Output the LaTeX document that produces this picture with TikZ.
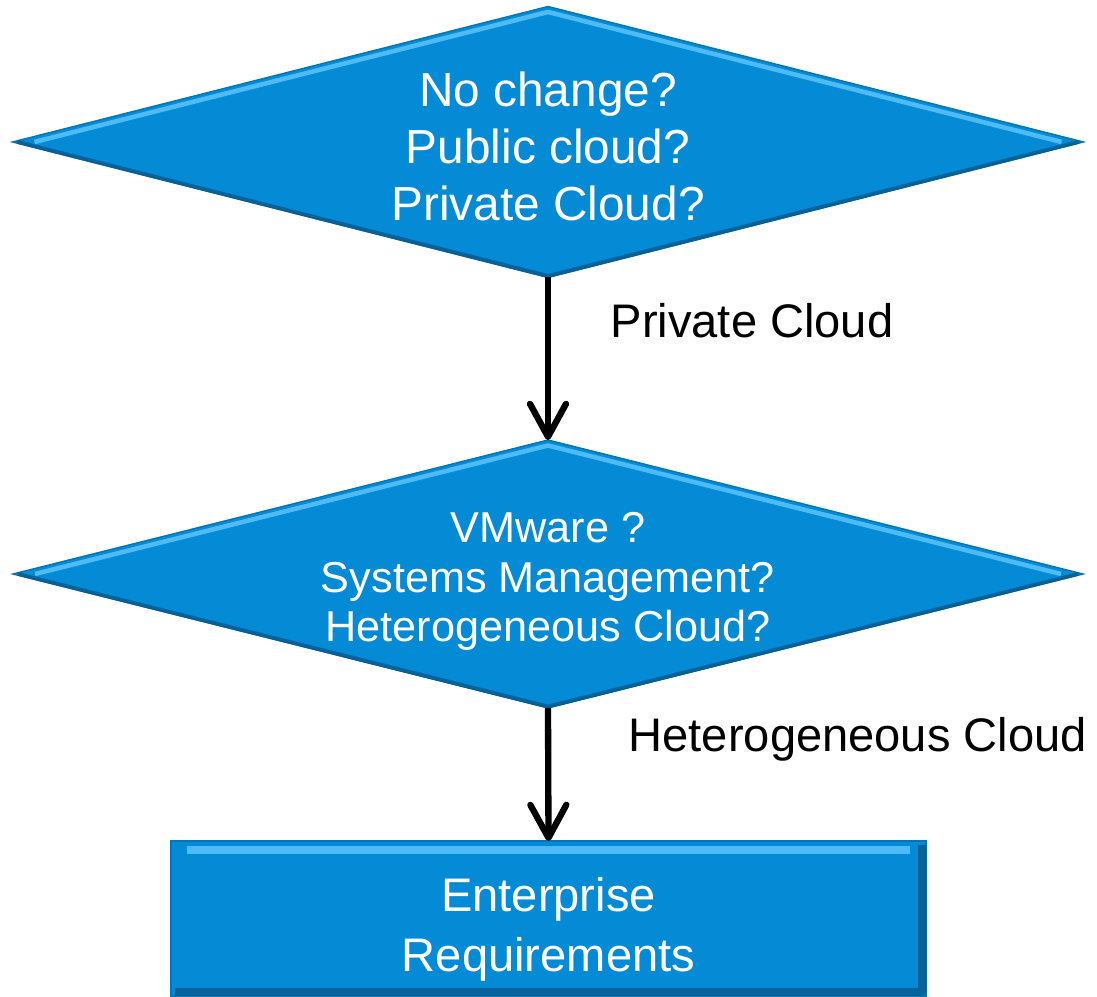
\documentclass[tikz,border=0pt]{standalone}
\usepackage{fontspec}
\setmainfont{Liberation Sans}
\usetikzlibrary{arrows.meta, shapes.geometric, calc}
\definecolor{cloudblue}{HTML}{058BD5}
\definecolor{cloudlight}{HTML}{4DBBF5}
\definecolor{clouddark}{HTML}{0A5687}

\begin{document}
\begin{tikzpicture}[
    question/.style={diamond, aspect=4, fill=cloudblue, draw=cloudblue!85!black, line width=0.4pt,
        inner sep=0pt, outer sep=0pt, text=white, align=center},
    outcome/.style={rectangle, fill=cloudblue, draw=cloudblue!85!black, line width=0.4pt,
        inner sep=0pt, outer sep=0pt, text=white, align=center,
        font=\fontsize{13.4}{17}\selectfont},
    hilite/.style={cloudlight, line width=1.3pt, line join=round},
    lowedge/.style={clouddark, line width=1.1pt, line join=round, opacity=0.75},
    choice/.style={inner sep=0pt, font=\fontsize{13.4}{16}\selectfont},
    flow/.style={line width=1.8pt, -{Straight Barb[length=3.3mm, width=3.6mm, round]}},
    x=1cm, y=1cm]

    \useasboundingbox (0, 0) rectangle (10.97, -9.97);

    % ----- the two questions and the final box (struts push the text a bit lower)
    \node[question, minimum width=10.71cm, minimum height=2.71cm,
          font=\fontsize{13.6}{16.2}\selectfont] (where) at (5.48, -1.42)
        {\rule{0pt}{12.2pt}No change?\\Public cloud?\\Private Cloud?};
    \node[question, minimum width=10.70cm, minimum height=2.68cm,
          font=\fontsize{12.3}{14.2}\selectfont] (how) at (5.48, -5.74)
        {\rule{0pt}{12.8pt}VMware ?\\Systems Management?\\Heterogeneous Cloud?};
    \node[outcome, minimum width=7.55cm, minimum height=1.55cm] (req) at (5.485, -9.185)
        {\rule{0pt}{16pt}Enterprise\\Requirements};

    % ----- bevel: light upper rims, dark lower rims
    \foreach \q in {where, how} {
        \draw[hilite] ($(\q.west)+(0.22,0)$) -- ($(\q.north)+(0,-0.055)$) -- ($(\q.east)+(-0.22,0)$);
        \draw[lowedge] ($(\q.west)+(0.05,0)$) -- ($(\q.south)+(0,0.015)$) -- ($(\q.east)+(-0.05,0)$);
    }
    \draw[hilite, line width=2.4pt] ($(req.north west)+(0.16,-0.09)$) -- ($(req.north east)+(-0.16,-0.09)$);
    \draw[lowedge, line width=2.2pt] ($(req.north east)+(-0.04,-0.04)$) -- ($(req.south east)+(-0.04,0.04)$)
        -- ($(req.south west)+(0.04,0.04)$);

    % ----- decisions
    \draw[flow] (where.south) -- (how.north);
    \draw[flow] (how.south) -- (req.north);
    \node[choice, anchor=base west] (pick1) at (6.10, -3.38) {Private Cloud};
    \node[choice, anchor=base west] (pick2) at (6.28, -7.52) {Heterogeneous Cloud};
\end{tikzpicture}
\end{document}
